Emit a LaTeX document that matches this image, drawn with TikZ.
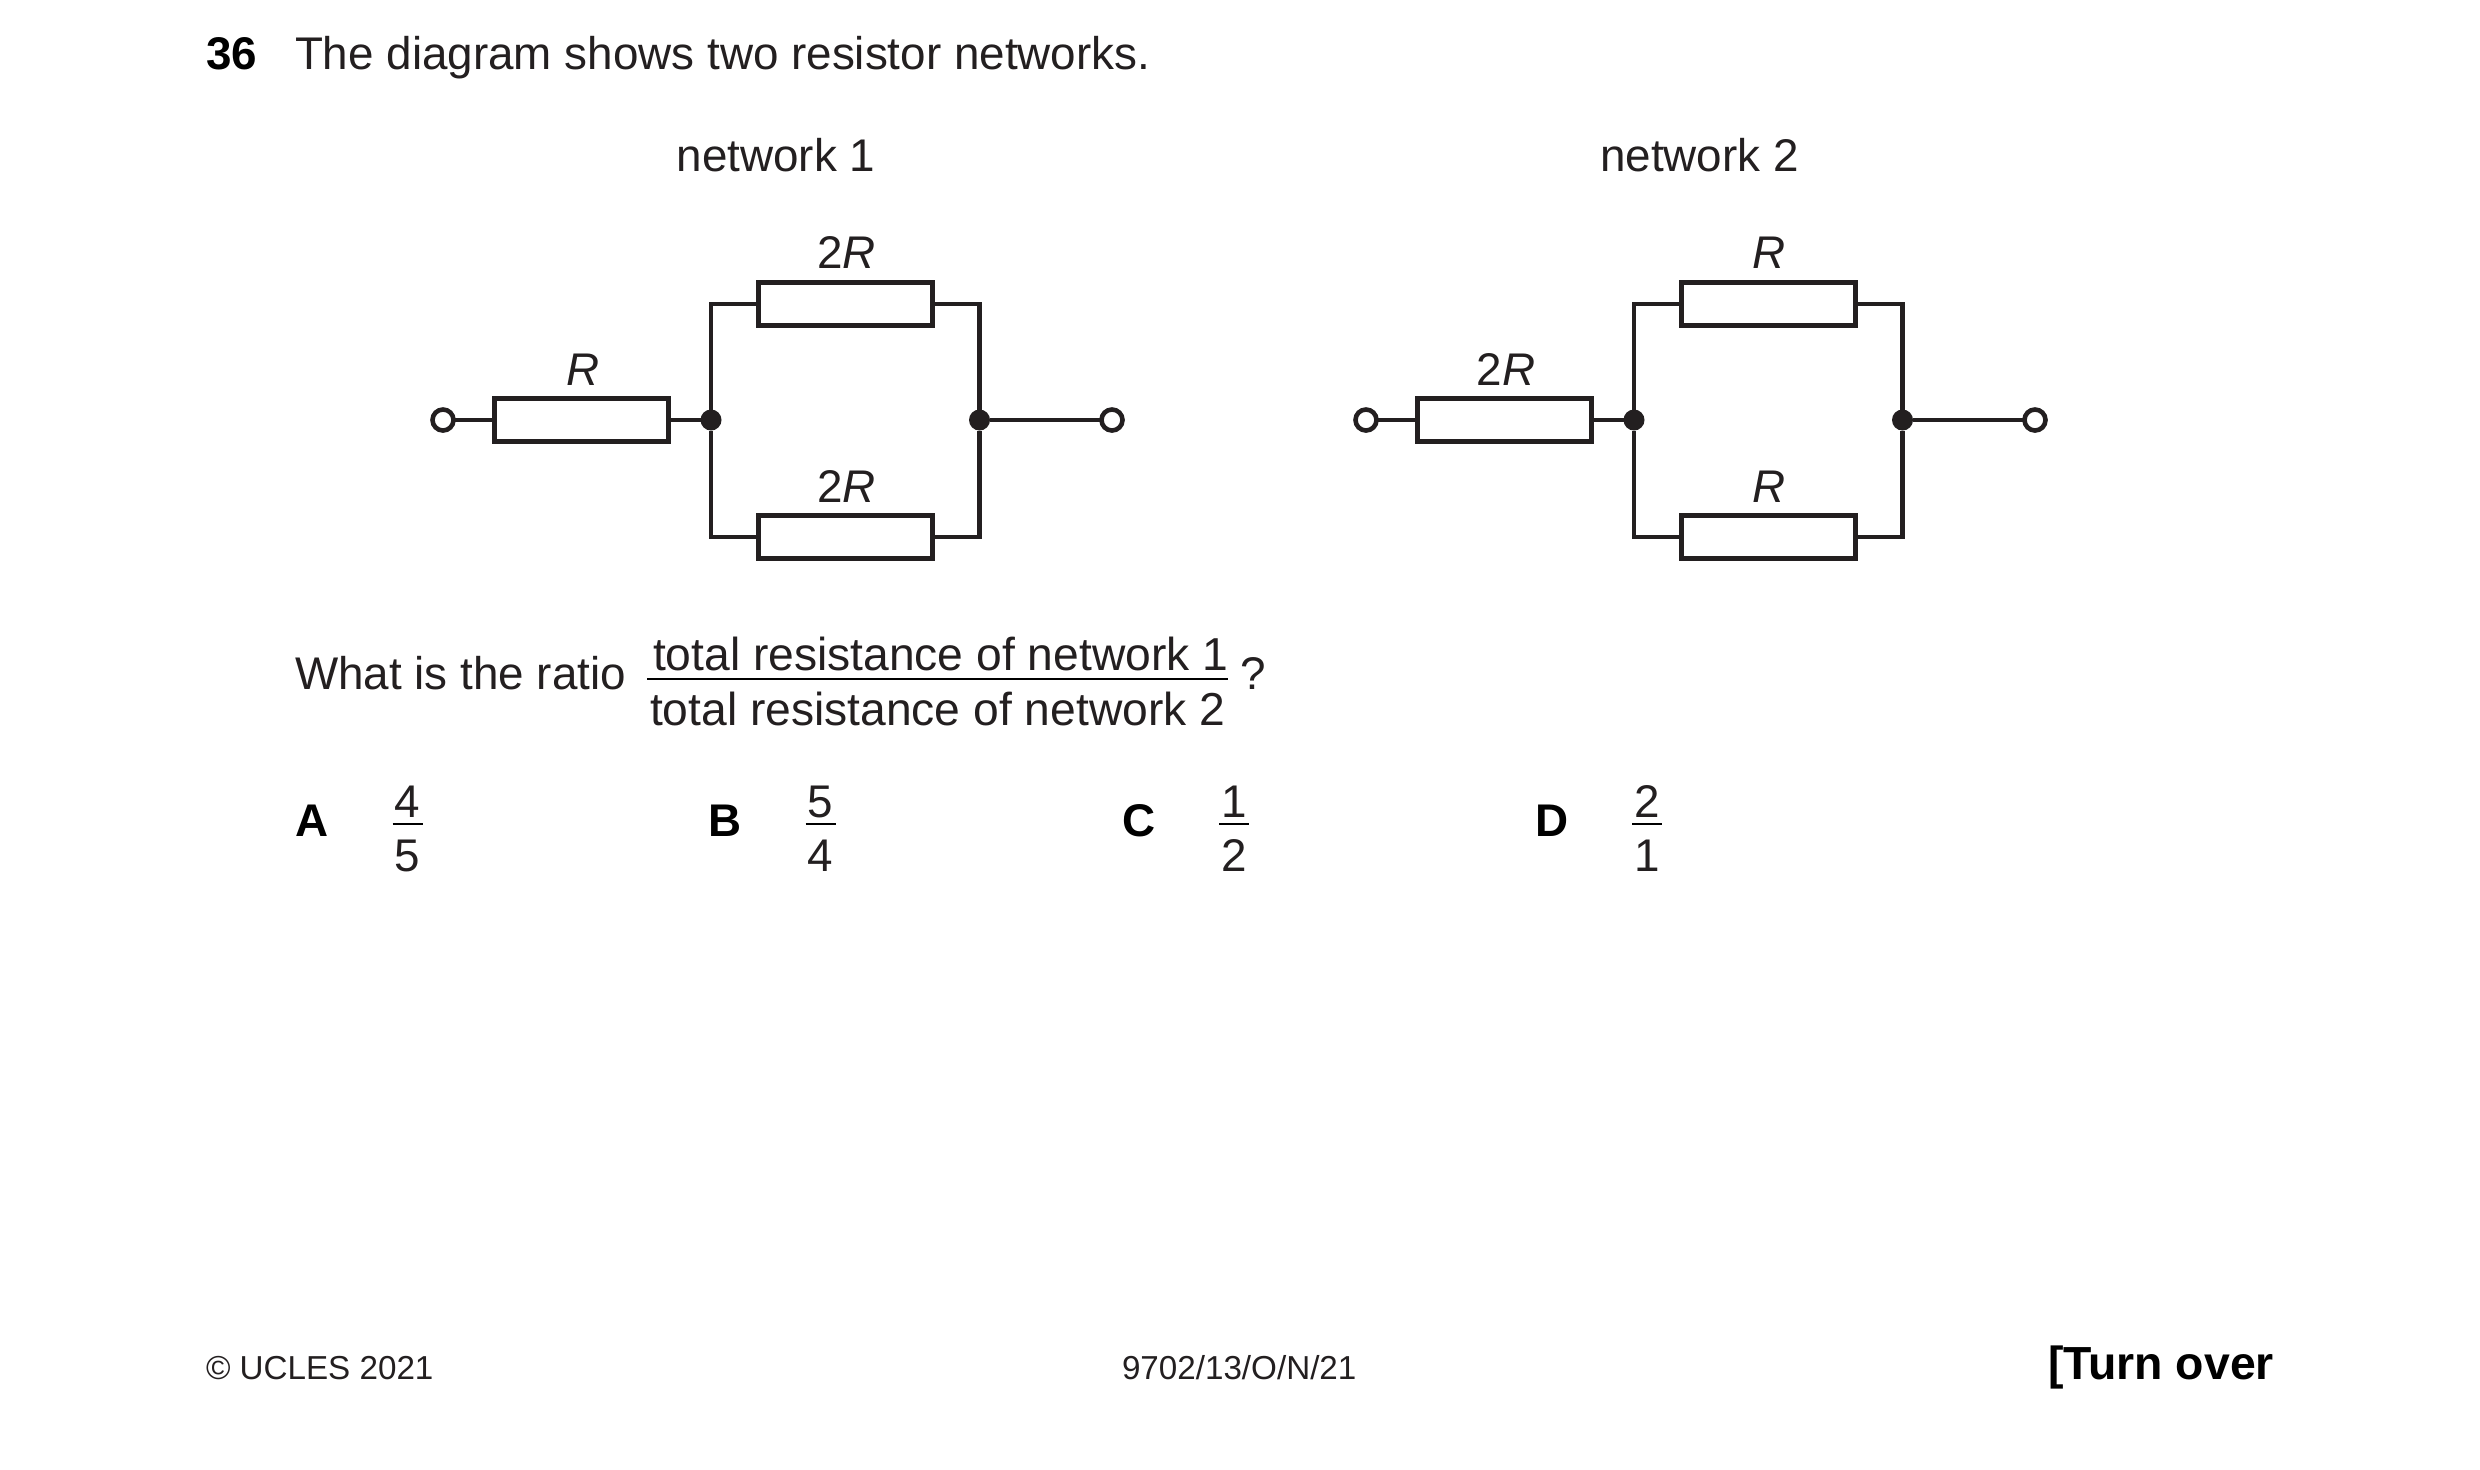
\documentclass[tikz,border=0pt]{standalone}
\usepackage{fontspec}
\setmainfont{Liberation Sans}
\definecolor{ink}{HTML}{231F20}
\tikzset{
  wire/.style={draw=ink,line width=2.2pt},
  resistor/.style={draw=ink,line width=2.3pt,fill=white,minimum width=87pt,minimum height=21.5pt,inner sep=0pt,outer sep=0pt},
  terminal/.style={circle,draw=ink,line width=2.3pt,fill=white,minimum size=10.5pt,inner sep=0pt,outer sep=0pt},
  junction/.style={circle,fill=ink,minimum size=10.5pt,inner sep=0pt,outer sep=0pt},
  txt/.style={anchor=base west,inner sep=0pt,outer sep=0pt,text=ink,font=\fontsize{22.9}{26}\selectfont},
  txc/.style={anchor=base,inner sep=0pt,outer sep=0pt,text=ink,font=\fontsize{22.9}{26}\selectfont},
  ftxt/.style={anchor=base west,inner sep=0pt,outer sep=0pt,text=ink,font=\fontsize{23.1}{26}\selectfont},
  lab/.style={anchor=base,inner sep=0pt,outer sep=0pt,text=ink,font=\fontsize{22.9}{26}\selectfont},
  bold/.style={anchor=base west,inner sep=0pt,outer sep=0pt,text=black,font=\fontsize{22.9}{26}\selectfont\bfseries},
  foot/.style={anchor=base west,inner sep=0pt,outer sep=0pt,text=ink,font=\fontsize{16.6}{20}\selectfont},
  fracbar/.style={draw=black,line width=1.2pt}
}
% #1 prefix, #2 x offset, #3 series label, #4 parallel label
\newcommand{\resnet}[4]{%
  \begin{scope}[xshift=#2]
    \node[terminal] (#1in) at (443,420) {};
    \node[resistor] (#1s) at (581.5,420) {};
    \node[junction] (#1jl) at (711,420) {};
    \node[junction] (#1jr) at (979.5,420) {};
    \node[terminal] (#1out) at (1112,420) {};
    \node[resistor] (#1t) at (845.5,304) {};
    \node[resistor] (#1b) at (845.5,537) {};
    \draw[wire] (#1in) -- (#1s);
    \draw[wire] (#1s) -- (#1jl);
    \draw[wire] (#1jr) -- (#1out);
    \draw[wire] (#1jl) |- (#1t);
    \draw[wire] (#1jl) |- (#1b);
    \draw[wire] (#1jr) |- (#1t);
    \draw[wire] (#1jr) |- (#1b);
    \node[lab] (#1ls) at (583,385) {#3};
    \node[lab] (#1lt) at (846.5,268.5) {#4};
    \node[lab] (#1lb) at (846.5,502) {#4};
  \end{scope}}
% #1 prefix, #2 centre x, #3 num, #4 den
\newcommand{\optfrac}[4]{%
  \node[txc] (#1n) at (#2,817) {#3};
  \node[txc] (#1d) at (#2,871) {#4};
  \coordinate (#1a) at ([xshift=-7.5pt]#2,824);
  \coordinate (#1c) at ([xshift=7.5pt]#2,824);
  \draw[fracbar] (#1a) -- (#1c);}
\begin{document}
\begin{tikzpicture}[x=0.5pt,y=-0.5pt]
  \useasboundingbox[fill=white] (0,0) rectangle (2480,1469);
  \node[bold] (qnum) at (206,69) {36};
  \node[txt] (title) at (295,69) {The diagram shows two resistor networks.};
  \node[txc] (n1) at (776,171) {network 1};
  \node[txc] (n2) at (1699.5,171) {network 2};
  \resnet{a}{0pt}{\textit{R}}{2\textit{R}}
  \resnet{b}{461.5pt}{2\textit{R}}{\textit{R}}
  \node[txt] (what) at (295,689) {What is the ratio};
  \node[ftxt] (num) at (653,670) {total resistance of network 1};
  \node[ftxt] (den) at (650,725) {total resistance of network 2};
  \coordinate (ra) at (647,679);
  \coordinate (rb) at (1228,679);
  \draw[fracbar] (ra) -- (rb);
  \node[txt] (qm) at (1240,689) {?};
  \node[bold] (oa) at (295,836) {A};
  \optfrac{fa}{407.5}{4}{5}
  \node[bold] (ob) at (708,836) {B};
  \optfrac{fb}{820.5}{5}{4}
  \node[bold] (oc) at (1122,836) {C};
  \optfrac{fc}{1234}{1}{2}
  \node[bold] (od) at (1535,836) {D};
  \optfrac{fd}{1647}{2}{1}
  \node[foot] (cr) at (206,1379) {© UCLES 2021};
  \node[foot] (code) at (1122,1379) {9702/13/O/N/21};
  \node[bold,font=\fontsize{23.2}{28}\selectfont\bfseries] (turn) at (2048,1379) {[Turn over};
\end{tikzpicture}
\end{document}
